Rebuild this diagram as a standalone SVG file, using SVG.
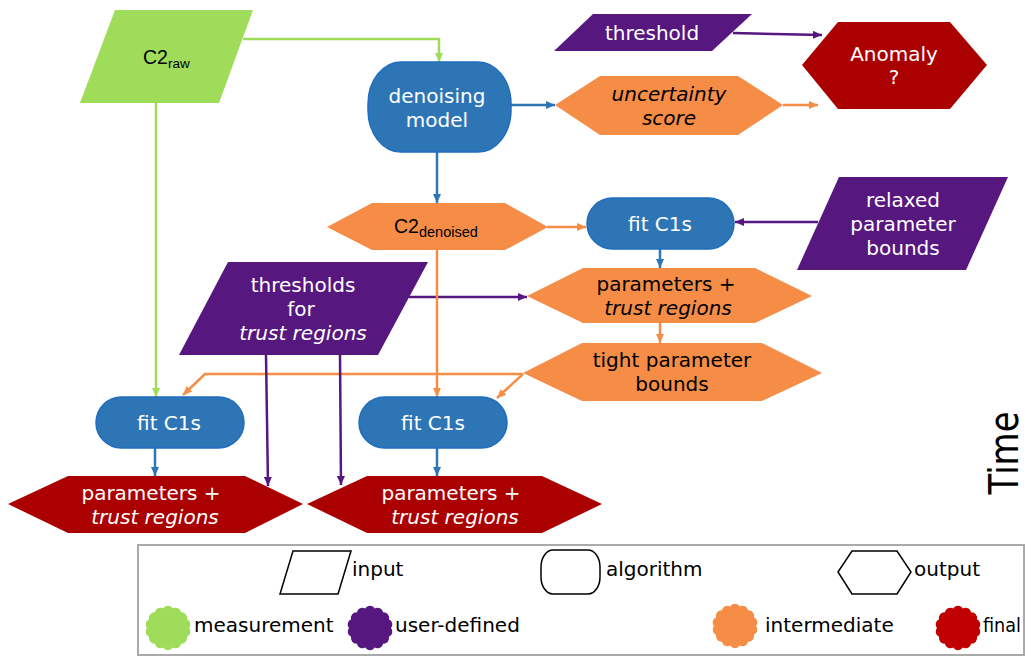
<svg xmlns="http://www.w3.org/2000/svg" width="1025" height="657" viewBox="0 0 1025 657">
<style>
.t{font-family:"DejaVu Sans",sans-serif;font-size:20px;text-anchor:middle}
.w{fill:#ffffff}
.k{fill:#000000}
.i{font-style:italic}
.a{font-family:"Liberation Sans",Arial,sans-serif}
.green{fill:#9edc5a}
.blue{fill:#2e75b6;stroke:#1f6dbf;stroke-width:1.5}
.orange{fill:#f58d47}
.purple{fill:#56177f}
.red{fill:#aa0000}
.c{fill:none;stroke-width:2.5}
.cg{stroke:#9edc5a}
.cb{stroke:#2e75b6}
.co{stroke:#f58d47}
.cp{stroke:#56177f}
.lg{fill:#ffffff;stroke:#000000;stroke-width:1.5}
.lt{font-family:"DejaVu Sans",sans-serif;font-size:20px;fill:#000000}
</style>
<defs>
<marker id="mg" markerUnits="userSpaceOnUse" markerWidth="9" markerHeight="8" refX="9" refY="4" orient="auto"><path d="M0,0 L9,4 L0,8 z" fill="#9edc5a"/></marker>
<marker id="mb" markerUnits="userSpaceOnUse" markerWidth="9" markerHeight="8" refX="9" refY="4" orient="auto"><path d="M0,0 L9,4 L0,8 z" fill="#2e75b6"/></marker>
<marker id="mo" markerUnits="userSpaceOnUse" markerWidth="9" markerHeight="8" refX="9" refY="4" orient="auto"><path d="M0,0 L9,4 L0,8 z" fill="#f58d47"/></marker>
<marker id="mp" markerUnits="userSpaceOnUse" markerWidth="9" markerHeight="8" refX="9" refY="4" orient="auto"><path d="M0,0 L9,4 L0,8 z" fill="#56177f"/></marker>
<path id="blob" d="M21,0 A5.5,5.5 0 0 1 18.9,8.7 A5.5,5.5 0 0 1 13.1,15.6 A5.5,5.5 0 0 1 4.7,19.5 A5.5,5.5 0 0 1 -4.7,19.5 A5.5,5.5 0 0 1 -13.1,15.6 A5.5,5.5 0 0 1 -18.9,8.7 A5.5,5.5 0 0 1 -21,0 A5.5,5.5 0 0 1 -18.9,-8.7 A5.5,5.5 0 0 1 -13.1,-15.6 A5.5,5.5 0 0 1 -4.7,-19.5 A5.5,5.5 0 0 1 4.7,-19.5 A5.5,5.5 0 0 1 13.1,-15.6 A5.5,5.5 0 0 1 18.9,-8.7 A5.5,5.5 0 0 1 21,0 Z"/>
</defs>

<g id="connectors">
<path class="c cg" d="M243,39 H439 V62" marker-end="url(#mg)"/>
<path class="c cg" d="M156,103 V397" marker-end="url(#mg)"/>
<path class="c cb" d="M511,105 H555" marker-end="url(#mb)"/>
<path class="c co" d="M783,105 H818" marker-end="url(#mo)"/>
<path class="c cp" d="M733,33 L822,35" marker-end="url(#mp)"/>
<path class="c cb" d="M437,152 V203" marker-end="url(#mb)"/>
<path class="c co" d="M547,227 H586" marker-end="url(#mo)"/>
<path class="c cp" d="M818,222 H735" marker-end="url(#mp)"/>
<path class="c cb" d="M660,249 V268" marker-end="url(#mb)"/>
<path class="c cp" d="M409,297 H527" marker-end="url(#mp)"/>
<path class="c co" d="M660,323 V343" marker-end="url(#mo)"/>
<path class="c co" d="M523,374 H205 L183,395" marker-end="url(#mo)"/>
<path class="c co" d="M523,374 L497,398" marker-end="url(#mo)"/>
<path class="c co" d="M437,250 V397" marker-end="url(#mo)"/>
<path class="c cp" d="M266,355 L268,486" marker-end="url(#mp)"/>
<path class="c cp" d="M340,355 L341,485" marker-end="url(#mp)"/>
<path class="c cb" d="M155,448 V476" marker-end="url(#mb)"/>
<path class="c cb" d="M437,448 V476" marker-end="url(#mb)"/>
</g>

<g id="c2raw">
<polygon class="green" points="115,10 253,10 219,103 80,103"/>
<text class="a k" x="143" y="64" font-size="19.5">C2<tspan font-size="13.5" dy="4">raw</tspan></text>
</g>

<g id="denoising-model">
<rect class="blue" x="368" y="62" width="143" height="90" rx="33" ry="42"/>
<text class="t w" x="437" y="103">denoising</text>
<text class="t w" x="437" y="127">model</text>
</g>

<g id="uncertainty-score">
<polygon class="orange" points="555,105 600,76 738,76 783,105 738,135 600,135"/>
<text class="t k i" x="669" y="101">uncertainty</text>
<text class="t k i" x="669" y="125">score</text>
</g>

<g id="threshold">
<polygon class="purple" points="593,14 752,14 712,51 554,51"/>
<text class="t w" x="652" y="40">threshold</text>
</g>

<g id="anomaly">
<polygon class="red" points="802,65 838,22 950,22 987,65 950,109 838,109"/>
<text class="t w" x="894" y="61">Anomaly</text>
<text class="t w" x="894" y="84">?</text>
</g>

<g id="c2denoised">
<polygon class="orange" points="327,227 372,203 505,203 548,227 505,250 372,250"/>
<text class="a k" x="394" y="233" font-size="19.5">C2<tspan font-size="14.5" dy="4">denoised</tspan></text>
</g>

<g id="fit-c1s-top">
<rect class="blue" x="587" y="198" width="147" height="51" rx="25.5" ry="25.5"/>
<text class="t w" x="660" y="231">fit C1s</text>
</g>

<g id="relaxed-bounds">
<polygon class="purple" points="839,177 1008,177 966,270 797,270"/>
<text class="t w" x="903" y="207">relaxed</text>
<text class="t w" x="903" y="231">parameter</text>
<text class="t w" x="903" y="255">bounds</text>
</g>

<g id="params-mid">
<polygon class="orange" points="527,296 583,268 755,268 812,296 755,323 583,323"/>
<text class="t k" x="666" y="291">parameters +</text>
<text class="t k i" x="668" y="315">trust regions</text>
</g>

<g id="tight-bounds">
<polygon class="orange" points="523,373 582,343 762,343 822,373 762,401 582,401"/>
<text class="t k" x="672" y="367">tight parameter</text>
<text class="t k" x="672" y="391">bounds</text>
</g>

<g id="thresholds-trust">
<polygon class="purple" points="228,262 428,262 378,355 179,355"/>
<text class="t w" x="303" y="292">thresholds</text>
<text class="t w" x="301" y="316">for</text>
<text class="t w i" x="303" y="340">trust regions</text>
</g>

<g id="fit-c1s-left">
<rect class="blue" x="96" y="397" width="148" height="51" rx="25.5" ry="25.5"/>
<text class="t w" x="169" y="430">fit C1s</text>
</g>

<g id="fit-c1s-mid">
<rect class="blue" x="359" y="397" width="148" height="51" rx="25.5" ry="25.5"/>
<text class="t w" x="433" y="430">fit C1s</text>
</g>

<g id="params-left">
<polygon class="red" points="8,504 68,476 245,476 303,504 245,533 68,533"/>
<text class="t w" x="151" y="500">parameters +</text>
<text class="t w i" x="155" y="524">trust regions</text>
</g>

<g id="params-right">
<polygon class="red" points="307,504 367,476 542,476 602,504 542,533 367,533"/>
<text class="t w" x="451" y="500">parameters +</text>
<text class="t w i" x="455" y="524">trust regions</text>
</g>

<g id="time">
<text font-family="DejaVu Sans,sans-serif" font-size="40" fill="#000" text-anchor="middle" textLength="83" lengthAdjust="spacingAndGlyphs" transform="translate(1018,453) rotate(-90)" x="0" y="0">Time</text>
</g>

<g id="legend">
<rect x="138" y="545" width="886" height="110" fill="none" stroke="#aaaaaa" stroke-width="2"/>
<polygon class="lg" points="293,551 351,551 338,594 280,594"/>
<text class="lt" x="352" y="576">input</text>
<rect class="lg" x="541" y="550" width="59" height="44" rx="12" ry="17"/>
<text class="lt" x="606" y="576">algorithm</text>
<polygon class="lg" points="838,572 852,551 897,551 911,572 897,594 852,594"/>
<text class="lt" x="914" y="576">output</text>
<use href="#blob" transform="translate(168,628)" fill="#9edc5a"/>
<text class="lt" x="194" y="632">measurement</text>
<use href="#blob" transform="translate(370,628)" fill="#56177f"/>
<text class="lt" x="395" y="632">user-defined</text>
<use href="#blob" transform="translate(735,626)" fill="#f58d47"/>
<text class="lt" x="765" y="632">intermediate</text>
<use href="#blob" transform="translate(958,628)" fill="#c00000"/>
<text class="lt" x="983" y="632" textLength="38" lengthAdjust="spacingAndGlyphs">final</text>
</g>
</svg>
